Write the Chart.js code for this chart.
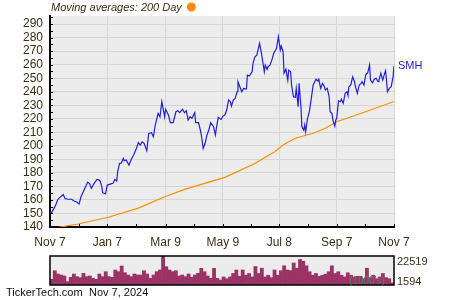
<!DOCTYPE html>
<html>
<head>
<meta charset="utf-8">
<script src="https://cdn.jsdelivr.net/npm/chart.js@4/dist/chart.umd.min.js"></script>
<style>
  body { margin: 0; background: #fff; }
  #wrap { position: relative; width: 450px; height: 300px; }
  canvas { position: absolute; left: 0; }
</style>
</head>
<body>
<div id="wrap">
  <canvas id="priceChart" width="450" height="300" style="top:0"></canvas>
  <canvas id="volChart" width="450" height="50" style="top:250px"></canvas>
</div>
<script>
// days counted from Nov 7, 2023
const xTickDays = [0, 61, 123, 184, 244, 305, 366];
const xTickLabels = ["Nov 7", "Jan 7", "Mar 9", "May 9", "Jul 8", "Sep 7", "Nov 7"];
const yTicks = [140, 150, 160, 170, 180, 190, 200, 210, 220, 230, 240, 250, 260, 270, 280, 290];

const priceDays = [
  0, 2, 6, 8, 10, 14, 16, 19, 23, 26,
  28, 31, 33, 36, 40, 42, 44, 47, 50, 53,
  55, 56, 59, 61, 64, 67, 69, 71, 72, 74,
  76, 78, 79, 81, 84, 87, 89, 92, 94, 96,
  98, 100, 103, 105, 108, 110, 112, 115, 117, 119,
  122, 123, 126, 128, 131, 134, 136, 138, 141, 143,
  145, 147, 149, 151, 154, 155, 158, 160, 161, 163,
  165, 167, 169, 171, 174, 176, 177, 179, 182, 184,
  186, 188, 190, 192, 193, 195, 197, 199, 200, 202,
  204, 206, 209, 210, 212, 215, 216, 218, 220, 223,
  225, 228, 229, 231, 232, 234, 236, 238, 239, 241,
  243, 245, 246, 248, 249, 251, 253, 254, 256, 257,
  259, 261, 262, 264, 265, 267, 268, 270, 271, 272,
  274, 276, 278, 280, 283, 285, 286, 288, 290, 292,
  293, 295, 297, 298, 300, 301, 303, 304, 305, 307,
  309, 310, 312, 314, 316, 317, 318, 320, 322, 324,
  325, 327, 329, 331, 332, 334, 336, 338, 340, 341,
  343, 345, 347, 349, 350, 352, 354, 356, 357, 358,
  359, 361, 363, 365, 366
];
const smhPrice = [
  150.6, 151, 156, 160, 161.5, 164, 161, 160.5, 160.5, 159,
  158.7, 157, 162.4, 167, 173, 172.3, 168.6, 172.3, 175.2, 174.5,
  170.3, 165.4, 164.4, 171, 171.7, 172.3, 175.2, 174, 180.9, 187,
  187.4, 190.8, 189, 189.6, 185.8, 190.8, 193.2, 198.2, 202.5, 200.6,
  203, 202, 196.4, 209.2, 209.7, 206.7, 215.4, 224, 221.5, 232.6,
  221.5, 227, 222.8, 217.1, 217.1, 225.2, 226, 224.5, 227, 224.5,
  226, 219, 221.5, 220.3, 224.5, 217.1, 217.1, 211.7, 208, 198.2,
  201.9, 208, 211.7, 217.1, 214.1, 208, 213, 221.1, 219.5, 222,
  222.8, 226.5, 233.9, 232.6, 229.4, 233.9, 235.1, 240, 247.4, 243.7,
  240, 242.5, 242, 252.3, 251.6, 254.8, 261, 265.9, 267.1, 275.8,
  268.4, 254.8, 259.7, 256.6, 258.5, 259.7, 263.4, 268.4, 269.6, 272.1,
  280.7, 270.8, 273.8, 269.6, 253.6, 256.6, 248.6, 256, 254.8, 245,
  236.3, 236, 242.5, 228.9, 246.2, 228.9, 214.1, 211.7, 215.4, 210.4,
  220.3, 225.5, 235.1, 245, 249.2, 247.9, 249.2, 242.5, 246.2, 243.7,
  241.3, 242.5, 236.3, 225.2, 224, 219, 214.6, 219, 220.3, 233.3,
  232.6, 234.5, 231.4, 238.8, 240, 237.5, 243.7, 245, 251, 247.4,
  243.7, 238.8, 245, 246.2, 247.4, 245, 252.8, 254, 259.7, 248.6,
  246.6, 249.2, 250, 247.4, 248.6, 253.6, 248.6, 253.6, 255.5, 248.6,
  240, 242.5, 243.7, 251, 259
];

const maDays = [0, 11, 30, 62, 94, 122, 144, 186, 218, 239, 248, 261, 280, 293, 305, 335, 366];
const ma200 = [138.6, 140, 142.2, 147.2, 154, 162.4, 168, 176.7, 187, 195.7, 200.6, 205.6, 209.3, 213, 217.8, 225, 232.8];

// volume in 1000's
const volume = [
  4400, 11100, 8540, 7760, 6990, 2590, 5950, 8540, 6470, 5690,
  9060, 6470, 6990, 5180, 4400, 8540, 6470, 10350, 6470, 5950,
  11650, 10350, 14750, 9580, 7760, 6470, 8540, 7760, 7760, 11100,
  8540, 5180, 7760, 10350, 11650, 22519, 14230, 11650, 10350, 11100,
  6990, 7760, 6470, 8540, 5950, 7760, 9060, 12940, 10350, 6990,
  5180, 12940, 5180, 3880,
  6240, 4880, 6240, 8950, 11670, 6780, 11670, 7600, 8950, 6240,
  14380, 8950, 13020, 6240, 7600, 5700, 11670, 7600, 11120, 14920,
  11670, 11120, 17090, 13020, 19800, 18450, 14920, 10310, 7600, 8950,
  6780, 7600, 8410, 10310, 14920, 8950, 10310, 7600, 6240, 9500,
  7600, 6240, 6780, 6780, 4880, 13020, 5700, 7600, 4880, 6240,
  8950, 5700, 4880, 1594
];
const volMax = 22519;
const volMin = 1594;

const textColor = "#3a3016";
const plotBg = "#ececec";
const gridColor = "#d6d6d6";

const priceDecor = {
  id: "priceDecor",
  beforeDraw(chart) {
    const { ctx, chartArea: a } = chart;
    ctx.save();
    ctx.fillStyle = plotBg;
    ctx.fillRect(a.left, a.top, a.right - a.left, a.bottom - a.top);
    ctx.restore();
  },
  afterDraw(chart) {
    const { ctx, chartArea: a, scales } = chart;
    ctx.save();
    ctx.strokeStyle = "#000";
    ctx.lineWidth = 1;
    // inward ticks on y, every 5
    for (let v = 140; v <= 295; v += 5) {
      const y = Math.round(scales.y.getPixelForValue(v)) + 0.5;
      ctx.beginPath();
      ctx.moveTo(a.left, y);
      ctx.lineTo(a.left + 3, y);
      ctx.stroke();
    }
    // inward ticks on x, major + halfway
    const xs = [];
    for (let i = 0; i < xTickDays.length; i++) {
      xs.push(xTickDays[i]);
      if (i < xTickDays.length - 1) xs.push((xTickDays[i] + xTickDays[i + 1]) / 2);
    }
    xs.forEach(d => {
      const x = Math.round(scales.x.getPixelForValue(d)) + 0.5;
      ctx.beginPath();
      ctx.moveTo(x, a.bottom);
      ctx.lineTo(x, a.bottom - 3);
      ctx.stroke();
    });

    // legend text
    ctx.font = "italic 11px 'Liberation Sans', Arial, sans-serif";
    ctx.fillStyle = textColor;
    ctx.textBaseline = "middle";
    const label = "Moving averages: 200 Day";
    ctx.fillText(label, 51, 8);
    const w = ctx.measureText(label).width;
    ctx.fillStyle = "#ff8c00";
    ctx.beginPath();
    ctx.arc(51 + w + 9.5, 7, 4.5, 0, Math.PI * 2);
    ctx.fill();

    // series name at the end of the line
    const lastY = scales.y.getPixelForValue(smhPrice[smhPrice.length - 1]);
    ctx.font = "11px 'Liberation Sans', Arial, sans-serif";
    ctx.fillStyle = "#2020cc";
    ctx.fillText("SMH", a.right + 4, lastY);
    ctx.restore();
  }
};

new Chart(document.getElementById("priceChart"), {
  type: "line",
  data: {
    datasets: [
      {
        label: "SMH",
        data: priceDays.map((d, i) => ({ x: d, y: smhPrice[i] })),
        borderColor: "#1f1fdd",
        borderWidth: 1.2,
        pointRadius: 0,
        tension: 0
      },
      {
        label: "200 Day",
        data: maDays.map((d, i) => ({ x: d, y: ma200[i] })),
        borderColor: "#ff8c00",
        borderWidth: 1.2,
        pointRadius: 0,
        tension: 0
      }
    ]
  },
  options: {
    responsive: false,
    animation: false,
    layout: { padding: { top: 16, right: 56, left: 0, bottom: 0 } },
    plugins: { legend: { display: false }, tooltip: { enabled: false } },
    scales: {
      x: {
        type: "linear",
        min: 0,
        max: 366,
        afterBuildTicks: s => { s.ticks = xTickDays.map(v => ({ value: v })); },
        afterFit: s => { s.height = 73; },
        grid: { color: gridColor, drawTicks: false },
        border: { color: "#000", width: 2 },
        ticks: {
          autoSkip: false,
          maxRotation: 0,
          padding: 8,
          color: textColor,
          font: { family: "'Liberation Sans', Arial, sans-serif", size: 12 },
          callback: (v, i) => xTickLabels[i]
        }
      },
      y: {
        min: 140,
        max: 296,
        afterBuildTicks: s => { s.ticks = yTicks.map(v => ({ value: v })); },
        afterFit: s => { s.width = 50; },
        grid: { color: gridColor, drawTicks: false },
        border: { color: "#000", width: 2 },
        ticks: {
          autoSkip: false,
          padding: 7,
          color: textColor,
          font: { family: "'Liberation Sans', Arial, sans-serif", size: 12 }
        }
      }
    }
  },
  plugins: [priceDecor]
});

const volDecor = {
  id: "volDecor",
  beforeDraw(chart) {
    const { ctx, chartArea: a } = chart;
    ctx.save();
    ctx.fillStyle = plotBg;
    ctx.fillRect(a.left, a.top, a.right - a.left, a.bottom - a.top);
    ctx.restore();
  },
  afterDraw(chart) {
    const { ctx, chartArea: a } = chart;
    ctx.save();
    ctx.strokeStyle = "#000";
    ctx.lineWidth = 1.5;
    ctx.strokeRect(a.left, a.top, a.right - a.left, a.bottom - a.top);

    ctx.textBaseline = "middle";
    ctx.font = "10px 'Liberation Sans', Arial, sans-serif";
    ctx.fillStyle = "#5b7b6b";
    ctx.fillText("(1000's)", 349, 31);

    ctx.font = "11px 'Liberation Sans', Arial, sans-serif";
    ctx.fillStyle = textColor;
    ctx.fillText(String(volMax), a.right + 3, 12);
    ctx.fillText(String(volMin), a.right + 3, 32);

    ctx.fillStyle = "#111";
    ctx.fillText("TickerTech.com", 6, 43);
    ctx.fillText("Nov 7, 2024", 89, 43);
    ctx.restore();
  }
};

new Chart(document.getElementById("volChart"), {
  type: "bar",
  data: {
    labels: volume.map((v, i) => i),
    datasets: [{
      data: volume,
      backgroundColor: "#9b3365",
      barPercentage: 1,
      categoryPercentage: 1,
      borderWidth: 0
    }]
  },
  options: {
    responsive: false,
    animation: false,
    layout: { padding: { top: 6, right: 56, left: 50, bottom: 15 } },
    plugins: { legend: { display: false }, tooltip: { enabled: false } },
    scales: {
      x: { display: false },
      y: { display: false, min: 0, max: volMax }
    }
  },
  plugins: [volDecor]
});
</script>
</body>
</html>
